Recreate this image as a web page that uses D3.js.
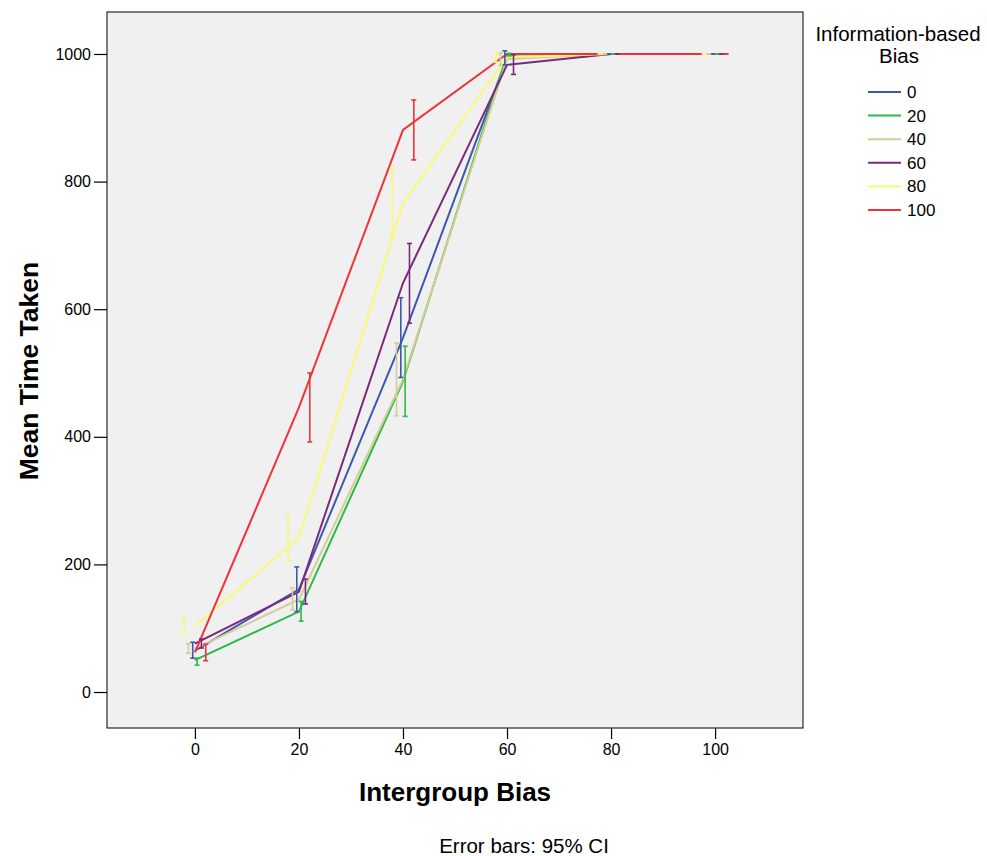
<!DOCTYPE html>
<html><head><meta charset="utf-8">
<script src="https://cdn.jsdelivr.net/npm/d3@7"></script>
<style>body{margin:0;background:#fff;} svg{display:block;font-family:"Liberation Sans",Arial,sans-serif;}</style>
</head><body>
<svg id="c" width="987" height="856"></svg>
<script>
const categories = [0, 20, 40, 60, 80, 100];
const seriesNames = ["0", "20", "40", "60", "80", "100"];
const seriesColors = ["#3E58AC", "#2EB848", "#D3CE97", "#7C287D", "#FBF873", "#EF3338"];
const mean0   = [65, 161, 555, 994, 1000, 1000];
const mean20  = [50, 126, 487, 999, 1000, 1000];
const mean40  = [68, 145, 490, 992, 1000, 1000];
const mean60  = [76, 157, 641, 983, 1000, 1000];
const mean80  = [104, 241, 766, 995, 1000, 1000];
const mean100 = [62, 446, 881, 1000, 1000, 1000];
const low0   = [53, 126, 493, 983, 1000, 1000];
const low20  = [42, 111, 432, 997, 1000, 1000];
const low40  = [61, 129, 433, 982, 1000, 1000];
const low60  = [69, 138, 578, 968, 1000, 1000];
const low80  = [91, 206, 712, 987, 1000, 1000];
const low100 = [49, 392, 834, 1000, 1000, 1000];
const high0   = [78, 196, 618, 1005, 1000, 1000];
const high20  = [53, 142, 542, 1001, 1000, 1000];
const high40  = [76, 163, 547, 1002, 1000, 1000];
const high60  = [83, 177, 703, 999, 1000, 1000];
const high80  = [118, 278, 821, 1002, 1000, 1000];
const high100 = [75, 500, 928, 1000, 1000, 1000];
const xTicks = [0, 20, 40, 60, 80, 100];
const yTicks = [0, 200, 400, 600, 800, 1000];

const means = [mean0, mean20, mean40, mean60, mean80, mean100];
const lows = [low0, low20, low40, low60, low80, low100];
const highs = [high0, high20, high40, high60, high80, high100];
const dodgeRank = [-0.5, 0.5, -1.5, 1.5, -2.5, 2.5];
const dodgeStep = 0.833;

const svg = d3.select("#c");
const L = 107, R = 803, T = 12, B = 728;
const x = d3.scaleLinear().domain([-16.9, 116.9]).range([L, R]);
const y = d3.scaleLinear().domain([-56.4, 1065.8]).range([B, T]);

svg.append("rect").attr("x", L).attr("y", T).attr("width", R - L).attr("height", B - T)
  .attr("fill", "#F0F0F0").attr("stroke", "#000").attr("stroke-width", 1);

const gx = svg.append("g").attr("transform", `translate(0,${B})`)
  .call(d3.axisBottom(x).tickValues(xTicks).tickSize(11).tickPadding(5).tickFormat(d3.format("d")));
const gy = svg.append("g").attr("transform", `translate(${L},0)`)
  .call(d3.axisLeft(y).tickValues(yTicks).tickSize(13).tickPadding(3).tickFormat(d3.format("d")));
[gx, gy].forEach(g => {
  g.select(".domain").remove();
  g.selectAll("text").attr("font-size", 16).attr("fill", "#000").attr("font-family", "Liberation Sans, Arial, sans-serif");
  g.selectAll("line").attr("stroke", "#000").attr("stroke-width", 1.2);
});

const line = d3.line().x(d => x(d[0])).y(d => y(d[1]));
seriesNames.forEach((s, i) => {
  const pts = categories.map((c, j) => [c, means[i][j]]);
  svg.append("path").datum(pts).attr("d", line).attr("fill", "none")
    .attr("stroke", seriesColors[i]).attr("stroke-width", 2);
});
seriesNames.forEach((s, i) => {
  const g = svg.append("g").attr("stroke", seriesColors[i]).attr("stroke-width", 1.6);
  categories.forEach((c, j) => {
    const cx = x(c + dodgeRank[i] * dodgeStep);
    const y1 = y(lows[i][j]), y2 = y(highs[i][j]);
    g.append("line").attr("x1", cx).attr("x2", cx).attr("y1", y1).attr("y2", y2);
    g.append("line").attr("x1", cx - 2.5).attr("x2", cx + 2.5).attr("y1", y1).attr("y2", y1);
    g.append("line").attr("x1", cx - 2.5).attr("x2", cx + 2.5).attr("y1", y2).attr("y2", y2);
  });
});

// axis titles
svg.append("text").attr("x", 455).attr("y", 801).attr("text-anchor", "middle")
  .attr("font-size", 26).attr("font-weight", "bold").text("Intergroup Bias");
svg.append("text").attr("transform", "translate(38,371) rotate(-90)").attr("text-anchor", "middle")
  .attr("font-size", 26.5).attr("font-weight", "bold").text("Mean Time Taken");
svg.append("text").attr("x", 524).attr("y", 853).attr("text-anchor", "middle")
  .attr("font-size", 20.5).text("Error bars: 95% CI");

// legend
svg.append("text").attr("x", 898).attr("y", 41).attr("text-anchor", "middle").attr("font-size", 20.5).text("Information-based");
svg.append("text").attr("x", 899).attr("y", 63).attr("text-anchor", "middle").attr("font-size", 20.5).text("Bias");
seriesNames.forEach((s, i) => {
  const ly = 92 + i * 23.6;
  svg.append("line").attr("x1", 868).attr("x2", 901).attr("y1", ly).attr("y2", ly)
    .attr("stroke", seriesColors[i]).attr("stroke-width", 2);
  svg.append("text").attr("x", 907).attr("y", ly + 6).attr("font-size", 17).text(s);
});
</script>
</body></html>
